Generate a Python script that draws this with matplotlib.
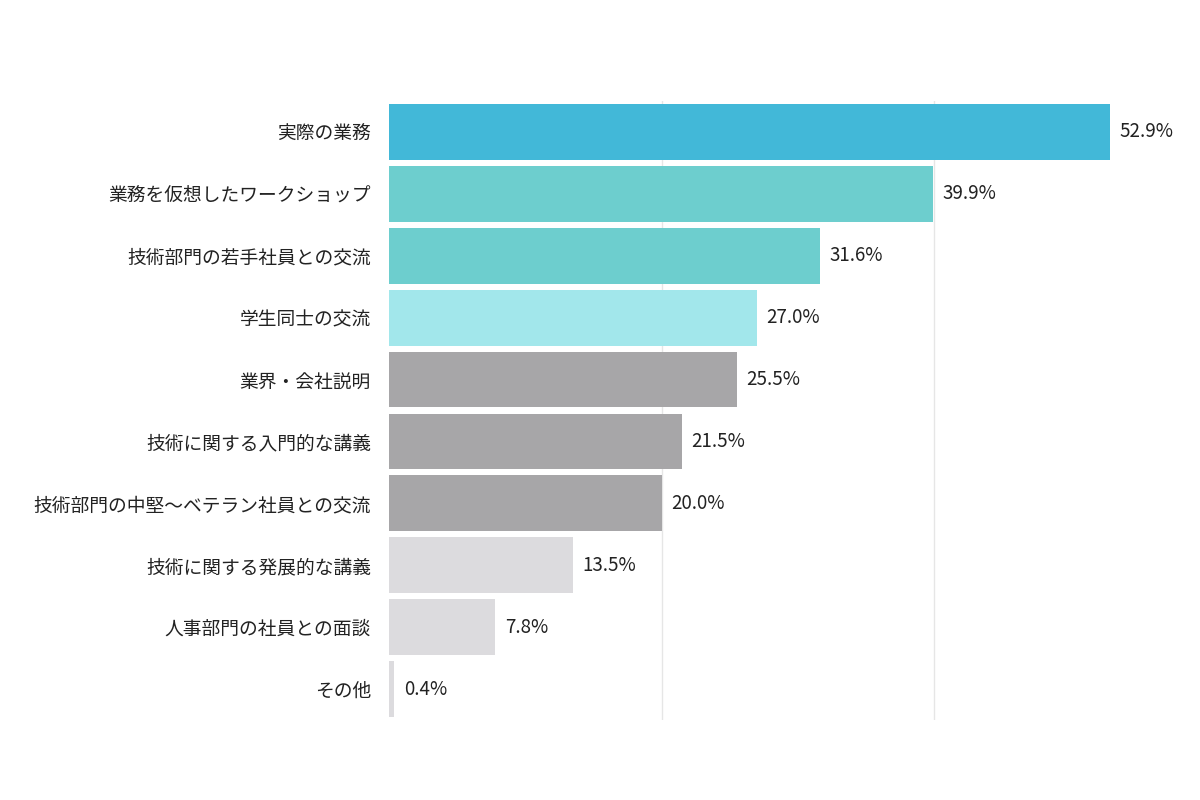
import matplotlib.pyplot as plt

plt.rcParams['font.family'] = 'Noto Sans CJK JP'

categories = ['実際の業務', '業務を仮想したワークショップ', '技術部門の若手社員との交流',
              '学生同士の交流', '業界・会社説明', '技術に関する入門的な講義',
              '技術部門の中堅〜ベテラン社員との交流', '技術に関する発展的な講義',
              '人事部門の社員との面談', 'その他']
values = [52.9, 39.9, 31.6, 27.0, 25.5, 21.5, 20.0, 13.5, 7.8, 0.4]
colors = ['#42b8d8', '#6dcece', '#6dcece', '#a2e7eb', '#a7a6a8', '#a7a6a8',
          '#a7a6a8', '#dcdbde', '#dcdbde', '#dcdbde']

fig = plt.figure(figsize=(12, 8), dpi=100)
ax = fig.add_axes([389 / 1200, 80 / 800, 796 / 1200, 619 / 800])

y = list(range(len(categories)))
ax.barh(y, values, height=0.9, color=colors, zorder=2)
for yi, v in zip(y, values):
    ax.text(v + 0.7, yi, f'{v:.1f}%', va='center', ha='left', fontsize=13.5, color='#222222')

ax.set_yticks(y)
ax.set_yticklabels(categories, fontsize=13.5, color='#222222')
ax.tick_params(axis='y', length=0, pad=13)
ax.set_xticks([20, 40])
ax.tick_params(axis='x', length=0, labelbottom=False)
ax.grid(axis='x', color='#e6e6e6', lw=1, zorder=0)
ax.set_xlim(0, 58.4)
ax.set_ylim(len(categories) - 0.5, -0.5)
for s in ax.spines.values():
    s.set_visible(False)

fig.savefig('out.png', dpi=100, facecolor='white')
